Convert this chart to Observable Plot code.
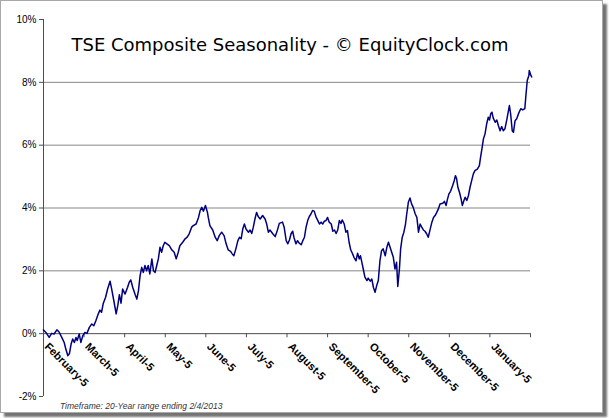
<!DOCTYPE html>
<html>
<head>
<meta charset="utf-8">
<script src="https://cdn.jsdelivr.net/npm/d3@7"></script>
<script src="https://cdn.jsdelivr.net/npm/@observablehq/plot@0.6"></script>
<style>
  html, body { margin: 0; padding: 0; background: #fff; }
  #wrap { position: relative; width: 609px; height: 418px; overflow: hidden; }
  #frame { position: absolute; left: 0; top: 0; width: 601px; height: 411px; border: 1px solid #a8a8a8; background: #fff; box-shadow: 4px 4px 2px rgba(0,0,0,0.55); }
  #chart { position: absolute; left: 0; top: 0; }
  #title { position: absolute; left: 0; width: 580px; top: 34px; text-align: center; font-family: "DejaVu Sans", Verdana, sans-serif; font-size: 18px; color: #000; white-space: nowrap; }
  #caption { position: absolute; left: 60px; top: 401px; font-family: Arial, "Liberation Sans", sans-serif; font-style: italic; font-size: 8.5px; color: #333; white-space: nowrap; }
</style>
</head>
<body>
<div id="wrap">
  <div id="frame"></div>
  <div id="chart"></div>
  <div id="title">TSE Composite Seasonality - © EquityClock.com</div>
  <div id="caption">Timeframe: 20-Year range ending 2/4/2013</div>
</div>
<script>
const months = ["February-5","March-5","April-5","May-5","June-5","July-5","August-5","September-5","October-5","November-5","December-5","January-5"];
const yTicks = [-2, 0, 2, 4, 6, 8, 10];
const gridValues = [2, 4, 6, 8];

// time position in months since February 5
const t = [0.00,0.06,0.14,0.20,0.26,0.33,0.38,0.45,0.51,0.55,0.60,0.64,0.68,0.72,0.76,0.80,0.83,0.88,0.92,0.97,
1.02,1.07,1.13,1.19,1.24,1.29,1.35,1.39,1.43,1.47,1.53,1.58,1.64,1.68,1.74,1.79,1.83,1.87,1.91,1.95,
2.01,2.07,2.11,2.15,2.20,2.26,2.30,2.34,2.38,2.42,2.46,2.50,2.54,2.58,2.62,2.67,2.71,2.75,2.79,2.83,
2.87,2.91,2.95,2.99,3.04,3.10,3.16,3.22,3.27,3.32,3.36,3.43,3.49,3.54,3.59,3.65,3.69,3.76,3.82,3.86,
3.90,3.94,3.99,4.04,4.06,4.10,4.17,4.23,4.28,4.33,4.39,4.45,4.50,4.55,4.61,4.65,4.69,4.74,4.79,4.83,
4.87,4.91,4.95,4.99,5.05,5.09,5.13,5.17,5.21,5.25,5.29,5.34,5.40,5.46,5.50,5.54,5.58,5.65,5.71,5.76,
5.81,5.89,5.93,5.98,6.02,6.06,6.10,6.14,6.17,6.22,6.26,6.30,6.35,6.39,6.43,6.47,6.51,6.55,6.59,6.63,
6.67,6.72,6.76,6.80,6.84,6.88,6.92,6.96,7.00,7.04,7.09,7.13,7.17,7.21,7.25,7.29,7.33,7.36,7.41,7.45,
7.49,7.53,7.57,7.61,7.65,7.70,7.74,7.78,7.81,7.84,7.88,7.92,7.97,8.00,8.05,8.09,8.13,8.17,8.21,8.25,
8.29,8.33,8.37,8.42,8.46,8.50,8.54,8.58,8.62,8.66,8.70,8.73,8.77,8.80,8.84,8.88,8.92,8.95,8.99,9.03,
9.07,9.11,9.16,9.20,9.24,9.28,9.32,9.36,9.40,9.44,9.48,9.52,9.57,9.61,9.65,9.69,9.73,9.77,9.84,9.88,
9.92,9.95,9.99,10.03,10.08,10.12,10.15,10.18,10.21,10.25,10.29,10.32,10.36,10.39,10.43,10.47,10.51,10.55,10.59,10.63,
10.69,10.74,10.77,10.81,10.84,10.88,10.92,10.96,10.99,11.02,11.05,11.08,11.13,11.17,11.21,11.25,11.29,11.33,11.37,11.42,
11.45,11.48,11.51,11.55,11.58,11.62,11.66,11.71,11.76,11.81,11.86,11.89,11.92,11.96,11.97,12.01,12.03];

// seasonal cumulative return, percent
const pct = [0.12,0.04,-0.12,0.01,-0.01,0.12,0.06,-0.12,-0.28,-0.49,-0.70,-0.63,-0.33,-0.17,-0.28,-0.12,-0.22,-0.01,-0.28,-0.06,
0.04,0.01,0.20,0.31,0.25,0.41,0.63,0.75,0.68,0.95,1.16,1.42,1.67,1.42,1.00,0.63,0.89,1.24,0.97,1.42,
1.26,1.47,1.63,1.71,1.47,1.24,1.10,1.37,1.85,2.11,1.95,2.17,2.00,2.17,1.90,2.38,2.00,1.95,2.17,2.38,
2.75,2.59,2.80,2.91,2.86,2.80,2.67,2.59,2.38,2.59,2.80,2.91,3.02,3.07,3.18,3.39,3.44,3.49,3.70,3.92,
4.02,3.90,4.08,3.86,3.70,3.44,3.30,3.07,2.96,3.12,3.23,3.12,2.86,2.67,2.62,2.54,2.48,2.70,2.96,3.07,
3.02,3.33,3.49,3.33,3.23,3.30,3.19,3.39,3.65,3.86,3.73,3.65,3.76,3.65,3.49,3.23,3.30,3.18,3.09,3.28,
3.51,3.55,3.39,2.96,2.86,2.98,3.18,3.26,3.07,2.86,2.96,2.88,2.83,2.96,3.07,3.39,3.60,3.73,3.81,3.92,
3.90,3.70,3.60,3.49,3.55,3.49,3.58,3.60,3.70,3.55,3.49,3.26,3.30,3.19,3.30,3.60,3.51,3.62,3.49,3.23,
3.28,2.91,2.67,2.56,2.43,2.32,2.56,2.38,2.48,2.30,2.05,1.80,1.69,1.77,1.67,1.74,1.47,1.32,1.53,1.69,
2.32,2.64,2.70,2.48,2.75,2.91,2.75,2.59,2.43,2.06,2.27,1.50,2.06,2.70,3.07,3.23,3.49,3.81,4.18,4.32,
4.13,4.02,3.81,3.70,3.23,3.49,3.39,3.30,3.26,3.18,3.07,3.28,3.55,3.70,3.76,3.86,3.97,4.13,4.15,4.21,
4.08,4.26,4.45,4.53,4.71,4.87,5.03,4.93,4.66,4.50,4.29,4.08,4.24,4.34,4.24,4.39,4.66,4.87,5.08,5.19,
5.24,5.35,5.62,5.94,6.20,6.36,6.68,6.89,6.80,7.00,7.05,6.87,6.73,6.80,6.62,6.46,6.59,6.46,6.52,6.84,
7.05,7.26,7.00,6.46,6.41,6.78,6.84,7.02,7.16,7.12,7.16,7.63,8.06,8.22,8.38,8.22,8.17];

const data = t.map((x, i) => ({t: x, v: pct[i]}));
const xTickVals = d3.range(0, months.length + 1);

const chart = Plot.plot({
  width: 603,
  height: 413,
  marginLeft: 43,
  marginRight: 73,
  marginTop: 19,
  marginBottom: 17,
  x: {domain: [0, 12], axis: null},
  y: {domain: [-2, 10], axis: null},
  style: {background: "transparent", overflow: "visible", fontFamily: "Arial, 'Liberation Sans', sans-serif", maxWidth: "none"},
  marks: [
    Plot.ruleY(gridValues, {stroke: "#868686", strokeWidth: 1}),
    Plot.ruleX([0], {stroke: "#4d4d4d", strokeWidth: 1}),
    Plot.ruleY([0], {stroke: "#4d4d4d", strokeWidth: 1}),
    Plot.axisY({ticks: yTicks, label: null, tickSize: 4, tickPadding: 3, tickFormat: d => d + "%", fontSize: 10, color: "#000", stroke: "#4d4d4d", strokeOpacity: 1}),
    Plot.ruleX(xTickVals, {x: d => d, y1: 0, y2: -0.13, stroke: "#4d4d4d"}),
    Plot.text(months, {x: (d, i) => i, y: () => 0, text: d => d, rotate: 45, textAnchor: "start", lineAnchor: "top", dx: 6, dy: 8, fontSize: 11, fontWeight: "bold", fill: "#000"}),
    Plot.line(data, {x: "t", y: "v", stroke: "#000080", strokeWidth: 1.5})
  ]
});
document.getElementById("chart").appendChild(chart);
</script>
</body>
</html>
